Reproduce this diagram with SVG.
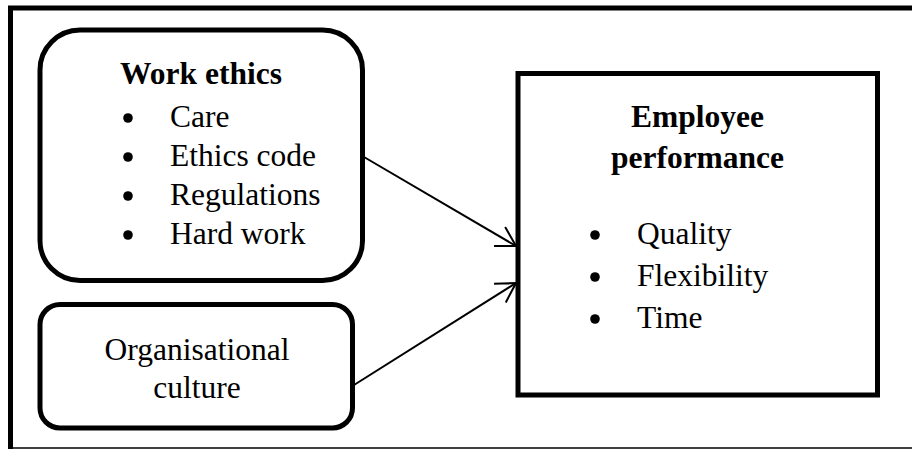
<svg xmlns="http://www.w3.org/2000/svg" width="912" height="449" viewBox="0 0 912 449">
<defs>
<style>
.box{fill:#fff;stroke:#000;stroke-width:5}
.t{font-family:"Liberation Serif","Times New Roman",serif;font-size:31.5px;fill:#000}
.b{font-weight:bold}
.m{text-anchor:middle}
.dot{fill:#000}
.con{fill:none;stroke:#000;stroke-width:2}
</style>
<marker id="arr" viewBox="-22 -12 24 24" refX="0" refY="0" markerWidth="24" markerHeight="24" markerUnits="userSpaceOnUse" orient="auto">
<path d="M-19 -11 L0 0 L-19 11" fill="none" stroke="#000" stroke-width="2"/>
</marker>
</defs>
<rect width="912" height="449" fill="#fff"/>
<g id="frame">
<path d="M10.5 449 V8 H915" fill="none" stroke="#000" stroke-width="5"/>
<line x1="8" y1="448" x2="912" y2="448" stroke="#000" stroke-width="1.5"/>
</g>
<g id="work-ethics">
<rect class="box" x="40" y="30" width="322.5" height="250.5" rx="40" ry="40"/>
<text class="t b m" x="201" y="84">Work ethics</text>
<circle class="dot" cx="128" cy="118" r="4.8"/><text class="t" x="170" y="127">Care</text>
<circle class="dot" cx="128" cy="157" r="4.8"/><text class="t" x="170" y="166">Ethics code</text>
<circle class="dot" cx="128" cy="196" r="4.8"/><text class="t" x="170" y="205">Regulations</text>
<circle class="dot" cx="128" cy="235" r="4.8"/><text class="t" x="170" y="244">Hard work</text>
</g>
<g id="organisational-culture">
<rect class="box" x="40" y="304.5" width="312.5" height="123.5" rx="20" ry="20"/>
<text class="t m" x="197" y="360">Organisational</text>
<text class="t m" x="197" y="398">culture</text>
</g>
<g id="employee-performance">
<rect class="box" x="518" y="73.5" width="359.5" height="321.5"/>
<text class="t b m" x="697.5" y="127">Employee</text>
<text class="t b m" x="697.5" y="168">performance</text>
<circle class="dot" cx="595" cy="235" r="4.8"/><text class="t" x="637" y="244">Quality</text>
<circle class="dot" cx="595" cy="277" r="4.8"/><text class="t" x="637" y="286">Flexibility</text>
<circle class="dot" cx="595" cy="319" r="4.8"/><text class="t" x="637" y="328">Time</text>
</g>
<g id="connectors">
<line class="con" x1="364" y1="157" x2="516" y2="246" marker-end="url(#arr)"/>
<line class="con" x1="354" y1="385" x2="516" y2="283" marker-end="url(#arr)"/>
</g>
</svg>
